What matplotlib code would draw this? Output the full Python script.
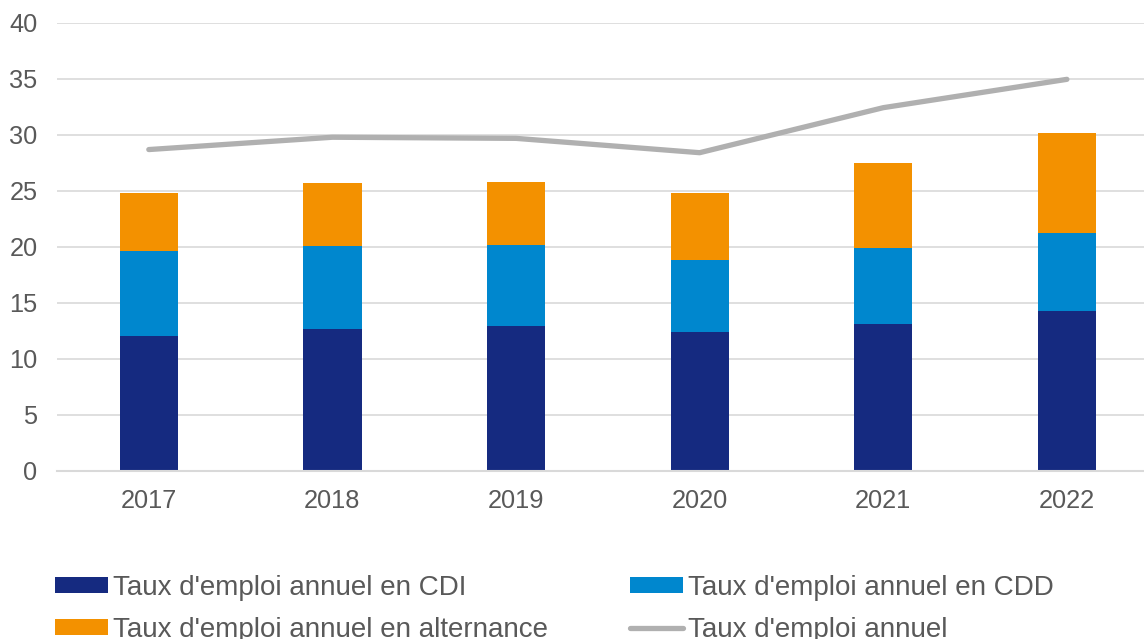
import matplotlib
matplotlib.use("Agg")
import matplotlib.pyplot as plt
import numpy as np

years = ["2017", "2018", "2019", "2020", "2021", "2022"]
cdi = [12.08, 12.65, 12.98, 12.41, 13.12, 14.31]
cdd_top = [19.67, 20.10, 20.15, 18.87, 19.88, 21.25]
alt_top = [24.80, 25.70, 25.83, 24.80, 27.47, 30.20]
annuel = [28.7, 29.8, 29.7, 28.42, 32.44, 34.97]

cdd = [t - b for t, b in zip(cdd_top, cdi)]
alt = [t - b for t, b in zip(alt_top, cdd_top)]

labels = ["Taux d'emploi annuel en CDI", "Taux d'emploi annuel en CDD",
          "Taux d'emploi annuel en alternance", "Taux d'emploi annuel"]
c_cdi, c_cdd, c_alt, c_line = "#152a80", "#0087ce", "#f39100", "#b0b0b0"

plt.rcParams['font.family'] = ['Liberation Sans', 'DejaVu Sans']

W, H = 1144, 639
fig = plt.figure(figsize=(W / 100, H / 100), dpi=100)
ax = fig.add_axes([57 / W, (H - 471) / H, 1 - 57 / W, (471 - 23) / H])

x = np.arange(len(years))
bw = 0.317
b1 = ax.bar(x, cdi, bw, color=c_cdi, zorder=2)
b2 = ax.bar(x, cdd, bw, bottom=cdi, color=c_cdd, zorder=2)
b3 = ax.bar(x, alt, bw, bottom=cdd_top, color=c_alt, zorder=2)
ln, = ax.plot(x, annuel, color=c_line, lw=3.8, solid_capstyle='round', zorder=3)

ax.set_xlim(-0.5, 5.42)
ax.set_ylim(0, 40)
ax.set_yticks(np.arange(0, 41, 5))
ax.set_xticks(x)
ax.set_xticklabels(years)
ax.yaxis.grid(True, color="#d9d9d9", lw=1.2, zorder=0)
ax.set_axisbelow(True)
for s in ["top", "right", "left"]:
    ax.spines[s].set_visible(False)
ax.spines["bottom"].set_color("#d9d9d9")
ax.spines["bottom"].set_linewidth(1.5)
ax.tick_params(axis="both", length=0, labelsize=18.3, labelcolor="#595959")
ax.tick_params(axis="y", pad=14)
ax.tick_params(axis="x", pad=13)

fig.legend([b1, b3, b2, ln], [labels[0], labels[2], labels[1], labels[3]],
           ncol=2, loc="upper left", bbox_to_anchor=(55 / W, 1 - 575 / H),
           frameon=False, fontsize=20, handlelength=1.9, handleheight=0.5,
           handletextpad=0.18, columnspacing=2.97, labelspacing=0.58,
           borderaxespad=0, borderpad=0, labelcolor="#595959")

fig.savefig("out.png", dpi=100)
